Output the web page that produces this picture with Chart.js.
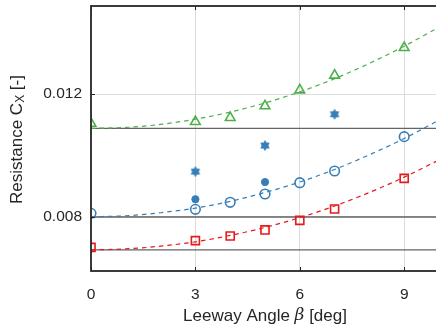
<!DOCTYPE html>
<html>
<head>
<meta charset="utf-8">
<script src="https://cdn.jsdelivr.net/npm/chart.js@4"></script>
<style>
  html, body { margin: 0; padding: 0; background: #fff; }
  #wrap { width: 436px; height: 331px; overflow: hidden; position: relative; }
  canvas { display: block; }
</style>
</head>
<body>
<div id="wrap"><canvas id="c" width="439" height="331" style="width:439px;height:331px"></canvas></div>
<script>
// ---- data ----
const leeway      = [0, 3, 4, 5, 6, 7, 9];
const greenTri    = [0.01104, 0.01110, 0.01123, 0.01161, 0.01213, 0.01261, 0.01351];
const blueCircle  = [0.00811, 0.00824, 0.00847, 0.00874, 0.00911, 0.00949, 0.01061];
const redSquare   = [0.00700, 0.00722, 0.00737, 0.00757, 0.00788, 0.00825, 0.00925];
const blueDotX    = [3, 5];
const blueDot     = [0.00857, 0.00913];
const blueStarX   = [3, 5, 7];
const blueStar    = [0.00947, 0.01032, 0.01134];
const curveX      = [0, 1, 2, 3, 4, 5, 6, 7, 8, 9, 10];
const greenCurve  = [0.01088, 0.01091, 0.01101, 0.01118, 0.01141, 0.01171, 0.01207, 0.01250, 0.01300, 0.01356, 0.01418];
const blueCurve   = [0.00800, 0.00803, 0.00813, 0.00828, 0.00850, 0.00879, 0.00913, 0.00954, 0.01002, 0.01055, 0.01115];
const redCurve    = [0.00692, 0.00695, 0.00704, 0.00718, 0.00739, 0.00765, 0.00797, 0.00835, 0.00879, 0.00929, 0.00985];
const refLevels   = [0.01088, 0.00799, 0.00692];
const xTicks      = [0, 3, 6, 9];
const yTicks      = [0.008, 0.012];
const xTitleParts = ['Leeway Angle ', 'β', ' [deg]'];
const yTitleParts = ['Resistance C', 'X', ' [-]'];

const GREEN = '#4daf4a', BLUE = '#377eb8', RED = '#e41a1c';
const TXT = '#262626';
const FONT = '"Liberation Sans", Arial, Helvetica, sans-serif';

function pts(xs, ys) { return xs.map((x, i) => ({x: x, y: ys[i]})); }

// filled hexagram marker
function hexagram(r, color) {
  const s = Math.ceil(r * 2 + 2);
  const c = document.createElement('canvas');
  c.width = s; c.height = s;
  const g = c.getContext('2d');
  g.fillStyle = color;
  g.strokeStyle = color;
  g.lineWidth = 1;
  g.lineJoin = 'round';
  const cx = s / 2, cy = s / 2;
  for (let k = 0; k < 2; k++) {
    g.beginPath();
    for (let i = 0; i < 3; i++) {
      const a = -Math.PI / 2 + k * Math.PI + i * 2 * Math.PI / 3;
      const px = cx + r * Math.cos(a), py = cy + r * Math.sin(a);
      if (i === 0) g.moveTo(px, py); else g.lineTo(px, py);
    }
    g.closePath();
    g.fill();
    g.stroke();
  }
  return c;
}
const starImg = hexagram(4.8, BLUE);

const datasets = [];
refLevels.forEach((v) => {
  datasets.push({ data: [{x: 0, y: v}, {x: 10, y: v}], borderColor: '#636363', borderWidth: 1.3,
    pointRadius: 0, showLine: true, order: 10 });
});
[[greenCurve, GREEN], [blueCurve, BLUE], [redCurve, RED]].forEach(([arr, col]) => {
  datasets.push({ data: pts(curveX, arr), borderColor: col, borderWidth: 1.2, borderDash: [4.5, 4],
    pointRadius: 0, showLine: true, cubicInterpolationMode: 'monotone', order: 5 });
});
datasets.push({ data: pts(leeway, greenTri), showLine: false, pointStyle: 'triangle', pointRadius: 5.6,
  borderColor: GREEN, backgroundColor: 'rgba(0,0,0,0)', pointBorderWidth: 1.6, order: 1 });
datasets.push({ data: pts(leeway, blueCircle), showLine: false, pointStyle: 'circle', pointRadius: 4.8,
  borderColor: BLUE, backgroundColor: 'rgba(0,0,0,0)', pointBorderWidth: 1.6, order: 1 });
datasets.push({ data: pts(leeway, redSquare), showLine: false, pointStyle: 'rect', pointRadius: 5.7,
  borderColor: RED, backgroundColor: 'rgba(0,0,0,0)', pointBorderWidth: 1.6, order: 1 });
datasets.push({ data: pts(blueDotX, blueDot), showLine: false, pointStyle: 'circle', pointRadius: 3.6,
  borderColor: BLUE, backgroundColor: BLUE, pointBorderWidth: 1, order: 1 });
datasets.push({ data: pts(blueStarX, blueStar), showLine: false, pointStyle: starImg, pointRadius: 5,
  borderColor: BLUE, backgroundColor: BLUE, order: 1 });

const frame = {
  id: 'frame',
  afterDatasetsDraw(chart) {
    const ctx = chart.ctx, a = chart.chartArea;
    const xs = chart.scales.x, ys = chart.scales.y;
    ctx.save();
    ctx.strokeStyle = TXT;
    ctx.lineWidth = 1.8;
    ctx.strokeRect(a.left, a.top, a.right - a.left, a.bottom - a.top);
    ctx.lineWidth = 1;
    ctx.beginPath();
    xTicks.forEach(t => {
      const px = Math.round(xs.getPixelForValue(t)) + 0.5;
      ctx.moveTo(px, a.bottom); ctx.lineTo(px, a.bottom - 4);
      ctx.moveTo(px, a.top); ctx.lineTo(px, a.top + 4);
    });
    yTicks.forEach(t => {
      const py = Math.round(ys.getPixelForValue(t)) + 0.5;
      ctx.moveTo(a.left, py); ctx.lineTo(a.left + 4, py);
    });
    ctx.stroke();

    // axis titles
    ctx.fillStyle = TXT;
    ctx.textBaseline = 'middle';
    const big = '17px ' + FONT, ital = 'italic 17px "DejaVu Serif", serif', small = '12px ' + FONT;
    // x title
    ctx.font = big; const w0 = ctx.measureText(xTitleParts[0]).width;
    ctx.font = ital; const w1 = ctx.measureText(xTitleParts[1]).width;
    ctx.font = big; const w2 = ctx.measureText(xTitleParts[2]).width;
    const cx = (a.left + a.right) / 2;
    let x0 = cx - (w0 + w1 + w2) / 2;
    const ty = 316;
    ctx.textAlign = 'left';
    ctx.font = big; ctx.fillText(xTitleParts[0], x0, ty);
    ctx.font = ital; ctx.fillText(xTitleParts[1], x0 + w0, ty);
    ctx.font = big; ctx.fillText(xTitleParts[2], x0 + w0 + w1, ty);
    // y title (rotated)
    ctx.save();
    ctx.translate(17, (a.top + a.bottom) / 2 + 1);
    ctx.rotate(-Math.PI / 2);
    ctx.font = big; const v0 = ctx.measureText(yTitleParts[0]).width;
    ctx.font = small; const v1 = ctx.measureText(yTitleParts[1]).width;
    ctx.font = big; const v2 = ctx.measureText(yTitleParts[2]).width;
    let y0 = -(v0 + v1 + v2) / 2;
    ctx.font = big; ctx.fillText(yTitleParts[0], y0, 0);
    ctx.font = small; ctx.fillText(yTitleParts[1], y0 + v0, 4);
    ctx.font = big; ctx.fillText(yTitleParts[2], y0 + v0 + v1, 0);
    ctx.restore();
    ctx.restore();
  }
};

function noPad(s) { s.paddingTop = 0; s.paddingBottom = 0; s.paddingLeft = 0; s.paddingRight = 0; }

new Chart(document.getElementById('c'), {
  type: 'scatter',
  data: { datasets: datasets },
  options: {
    responsive: false,
    animation: false,
    events: [],
    layout: { autoPadding: false, padding: { top: 6, left: 0, right: 0, bottom: 0 } },
    plugins: { legend: { display: false }, tooltip: { enabled: false } },
    scales: {
      x: {
        type: 'linear', min: 0, max: 10,
        afterBuildTicks: s => { s.ticks = xTicks.map(v => ({value: v})); },
        afterFit: s => { s.height = 60; noPad(s); },
        grid: { color: '#dcdcdc', lineWidth: 1, drawTicks: false },
        border: { display: false },
        ticks: { color: TXT, font: { size: 15.5, family: FONT }, padding: 14,
          callback: v => String(v) }
      },
      y: {
        type: 'linear', min: 0.00623, max: 0.01487,
        afterBuildTicks: s => { s.ticks = yTicks.map(v => ({value: v})); },
        afterFit: s => { s.width = 91; noPad(s); },
        grid: { color: '#dcdcdc', lineWidth: 1, drawTicks: false },
        border: { display: false },
        ticks: { color: TXT, font: { size: 15.5, family: FONT }, padding: 9,
          callback: v => v.toFixed(3) }
      }
    }
  },
  plugins: [frame]
});
</script>
</body>
</html>
